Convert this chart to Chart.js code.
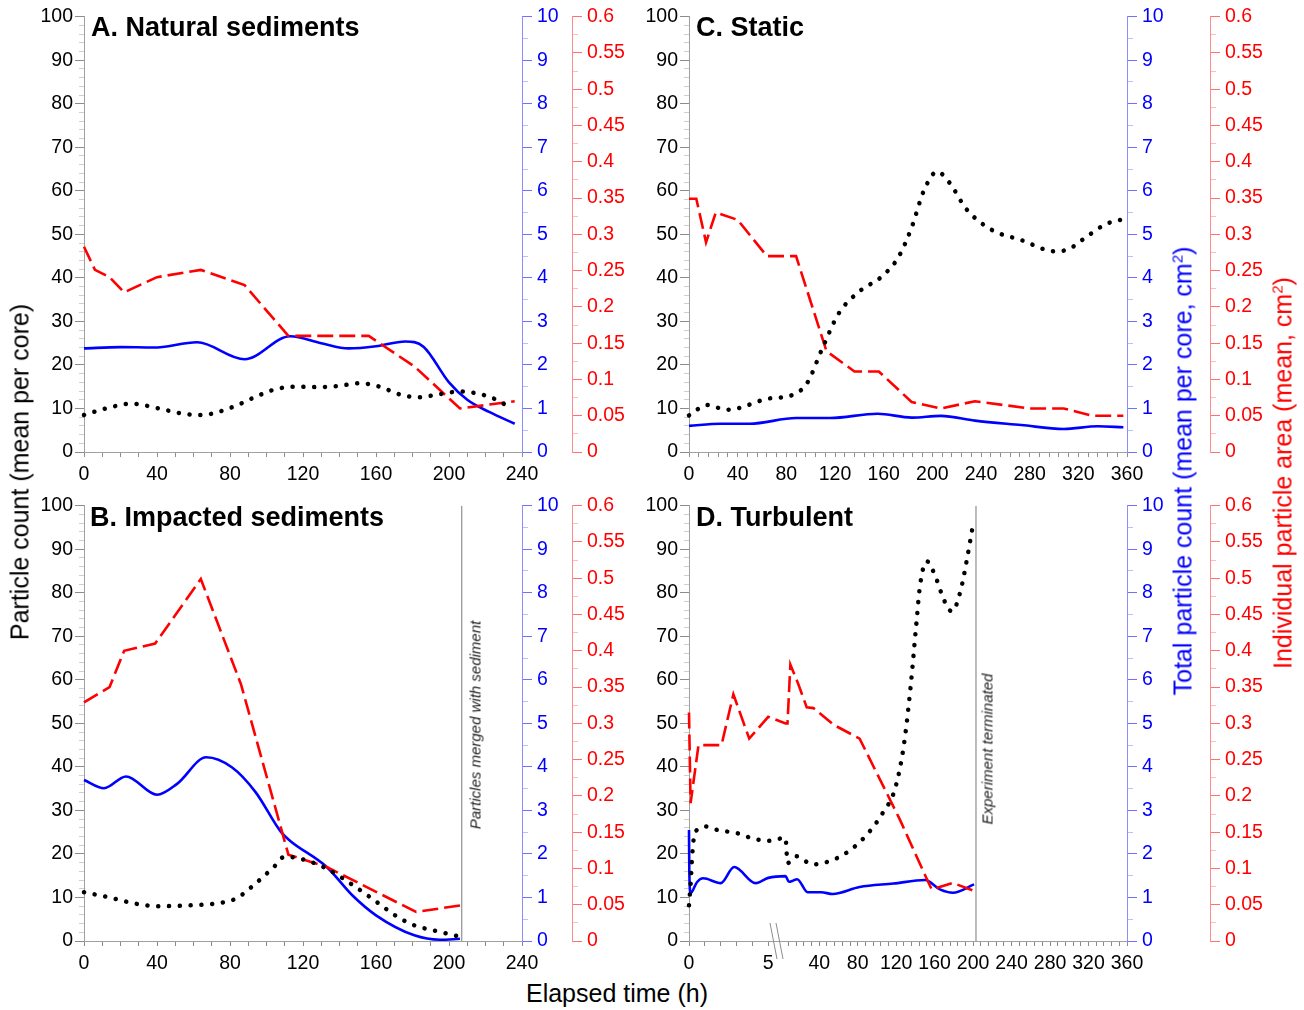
<!DOCTYPE html>
<html>
<head>
<meta charset="utf-8">
<script src="https://cdn.jsdelivr.net/npm/chart.js@4/dist/chart.umd.min.js"></script>
<style>
body { margin: 0; background: #fff; width: 1304px; height: 1010px; position: relative; overflow: hidden;
       font-family: "Liberation Sans", Arial, Helvetica, sans-serif; }
canvas { position: absolute; }
.t { position: absolute; white-space: nowrap; line-height: 1; }
.rot { transform: translate(-50%, -50%) rotate(-90deg); }
.ttl { font-weight: bold; font-size: 27px; color: #000; }
.ax { font-size: 25px; }
.note { font-size: 15px; font-style: italic; color: #222; }
sup { font-size: 0.6em; vertical-align: super; line-height: 0; }
</style>
</head>
<body>
<canvas id="cA" width="602" height="489" style="left:30px;top:0px"></canvas>
<canvas id="cB" width="602" height="489" style="left:30px;top:489px"></canvas>
<canvas id="cC" width="635" height="489" style="left:635px;top:0px"></canvas>
<canvas id="cD" width="635" height="489" style="left:635px;top:489px"></canvas>

<div class="t ttl" style="left:91px;top:14px">A. Natural sediments</div>
<div class="t ttl" style="left:90px;top:504px">B. Impacted sediments</div>
<div class="t ttl" style="left:696px;top:14px">C. Static</div>
<div class="t ttl" style="left:696px;top:504px">D. Turbulent</div>

<div class="t rot note" style="left:475px;top:725px">Particles merged with sediment</div>
<div class="t rot note" style="left:987px;top:749px">Experiment terminated</div>

<div class="t rot ax" style="left:20px;top:472px;color:#000">Particle count (mean per core)</div>
<div class="t rot ax" style="left:1183px;top:471px;color:#0000ff">Total particle count (mean per core, cm<sup>2</sup>)</div>
<div class="t rot ax" style="left:1283px;top:473px;color:#ff0000">Individual particle area (mean, cm<sup>2</sup>)</div>
<div class="t ax" style="left:617px;top:993px;transform:translate(-50%,-50%)">Elapsed time (h)</div>

<script>
// tick labels
const countTicks = [0, 10, 20, 30, 40, 50, 60, 70, 80, 90, 100];
const totalTicks = [0, 1, 2, 3, 4, 5, 6, 7, 8, 9, 10];
const areaTicks = [0, 0.05, 0.1, 0.15, 0.2, 0.25, 0.3, 0.35, 0.4, 0.45, 0.5, 0.55, 0.6];
const timeTicksShort = [0, 40, 80, 120, 160, 200, 240];
const timeTicksLong = [0, 40, 80, 120, 160, 200, 240, 280, 320, 360];
const turbEarlyTicks = [0, 5];

// A. Natural sediments
const natCountHours = [0, 12, 26, 41, 53, 64, 82, 92, 104, 115, 128, 140, 151, 162, 174, 184, 195, 206, 216, 226, 234];
const natCount = [8.5, 10, 11.1, 10, 8.9, 8.5, 10.4, 12.3, 14.3, 15, 14.9, 15.2, 15.8, 15, 13.1, 12.6, 13.3, 13.9, 13.4, 12, 10];
const natTotalHours = [0, 20, 38, 62, 88, 113, 130, 145, 160, 176, 186, 200, 210, 222, 236];
const natTotal = [2.38, 2.41, 2.4, 2.52, 2.13, 2.66, 2.5, 2.38, 2.43, 2.54, 2.42, 1.6, 1.2, 0.92, 0.65];
const natAreaHours = [0, 6, 14, 22, 40, 64, 88, 112, 156, 181, 206, 236];
const natArea = [0.283, 0.251, 0.241, 0.220, 0.241, 0.251, 0.230, 0.160, 0.160, 0.118, 0.060, 0.070];

// B. Impacted sediments
const impCountHours = [0, 13, 28, 41, 59, 72, 83, 94, 104, 110, 122, 133, 145, 158, 172, 181, 195, 205];
const impCount = [11.2, 10.1, 8.6, 8.0, 8.2, 8.6, 9.7, 13.2, 17, 19.4, 18.5, 16.6, 13.5, 9.7, 5.5, 3.6, 2.1, 1.1];
const impTotalHours = [0, 11, 23, 40, 51, 67, 81, 94, 108, 113, 133, 147, 160, 181, 195, 206];
const impTotal = [3.70, 3.51, 3.78, 3.36, 3.61, 4.22, 3.99, 3.42, 2.50, 2.30, 1.70, 1.05, 0.59, 0.13, 0.03, 0.05];
const impAreaHours = [0, 14, 22, 39, 64, 86, 112, 133, 182, 206];
const impArea = [0.329, 0.350, 0.400, 0.410, 0.499, 0.354, 0.119, 0.102, 0.040, 0.049];
const impMergedHour = 207;

// C. Static
const staCountHours = [0, 15, 31, 41, 64, 85, 97, 109, 123, 141, 158, 172, 183, 193, 204, 214, 228, 249, 273, 301, 312, 326, 343, 357];
const staCount = [8.4, 10.8, 9.7, 10.1, 12.2, 13.1, 15.8, 23.4, 31.8, 37.1, 40.2, 44.7, 51.6, 60, 64.4, 61.9, 55.8, 51, 48.7, 46.1, 46.6, 49.3, 52.4, 53.5];
const staTotalHours = [0, 26, 50, 88, 116, 155, 183, 207, 235, 273, 308, 336, 357];
const staTotal = [0.60, 0.65, 0.65, 0.78, 0.78, 0.88, 0.79, 0.83, 0.72, 0.62, 0.53, 0.59, 0.57];
const staAreaHours = [0, 6, 14, 22, 40, 64, 88, 113, 136, 156, 183, 207, 235, 280, 308, 331, 357];
const staArea = [0.349, 0.349, 0.289, 0.330, 0.320, 0.270, 0.270, 0.139, 0.111, 0.111, 0.069, 0.060, 0.070, 0.060, 0.060, 0.050, 0.050];

// D. Turbulent (first 5 h on a stretched scale, then a break)
const turbCountEarlyHours = [0, 0.1, 0.2, 0.32, 0.6, 1, 1.9, 3, 3.9, 5];
const turbCountEarly = [8.2, 13, 19.5, 24, 25.7, 26.3, 25.4, 24.8, 23.7, 23];
const turbCountLateHours = [5, 7, 16, 33, 55, 73, 91, 106, 119, 128, 135, 141, 145, 152, 161, 170, 178, 187, 194, 200];
const turbCountLate = [23.7, 17.9, 19.5, 17.6, 18.7, 21, 24.8, 29.4, 35.1, 45, 58.4, 72.9, 82, 87.2, 83.6, 78.2, 75.7, 80.5, 88.2, 95.8];
const turbTotalEarlyHours = [0, 0.02, 0.1, 0.5, 0.9, 2.0, 2.85, 4.2, 5];
const turbTotalEarly = [2.55, 1.6, 1.1, 1.35, 1.44, 1.33, 1.70, 1.33, 1.45];
const turbTotalLateHours = [5, 8.5, 12, 17, 28, 42, 54, 82, 117, 150, 166, 179, 201];
const turbTotalLate = [1.49, 1.36, 1.38, 1.42, 1.12, 1.12, 1.08, 1.24, 1.32, 1.40, 1.18, 1.11, 1.30];
const turbAreaEarlyHours = [0, 0.1, 0.6, 2.05, 2.8, 3.8, 5];
const turbAreaEarly = [0.315, 0.19, 0.27, 0.27, 0.34, 0.279, 0.309];
const turbAreaLateHours = [5, 7, 10, 18, 27, 34, 55, 82, 124, 152, 157, 179, 201];
const turbAreaLate = [0.300, 0.300, 0.381, 0.355, 0.322, 0.321, 0.298, 0.279, 0.167, 0.085, 0.071, 0.080, 0.069];
const turbEndHour = 203;

const FONT = '"Liberation Sans", Arial, Helvetica, sans-serif';
const TICK_SIZE = 19.5;
const EARLY_STRETCH = 16.48; // axis units per hour in the first 5 h
const LATE_OFFSET = 95.4;    // where hour 0 of the main time axis sits

function near(list, v) { return list.some(m => Math.abs(m - v) < 1e-7); }
function fmt(v) { return String(+v.toFixed(3)); }

function subdivide(majors, n) {
  const out = [];
  for (let i = 0; i < majors.length; i++) {
    out.push(majors[i]);
    if (i < majors.length - 1) {
      const step = (majors[i + 1] - majors[i]) / n;
      for (let k = 1; k < n; k++) out.push(majors[i] + k * step);
    }
  }
  return out;
}

function leftAxis() {
  const isMaj = c => c.tick && near(countTicks, c.tick.value);
  return {
    type: 'linear', position: 'left', min: 0, max: 100,
    afterBuildTicks: s => { s.ticks = subdivide(countTicks, 5).map(v => ({value: v})); },
    afterFit: s => { s.width = 54; },
    border: {color: '#a0a0a0', width: 1},
    grid: {
      drawOnChartArea: false, tickLength: 9, tickWidth: 1,
      tickColor: c => isMaj(c) ? '#8c8c8c' : '#cfcfcf',
      tickBorderDash: c => isMaj(c) ? [] : [5, 4],
      tickBorderDashOffset: c => isMaj(c) ? 0 : 5
    },
    ticks: {autoSkip: false, padding: 2, color: '#000', font: {size: TICK_SIZE, family: FONT},
      callback: v => near(countTicks, v) ? fmt(v) : ''}
  };
}

function rightAxis(majors, max, weight, width, label, line, major, minor) {
  const isMaj = c => c.tick && near(majors, c.tick.value);
  return {
    type: 'linear', position: 'right', min: 0, max: max, weight: weight,
    afterBuildTicks: s => { s.ticks = subdivide(majors, 2).map(v => ({value: v})); },
    afterFit: s => { s.width = width; },
    border: {color: line, width: 1},
    grid: {
      drawOnChartArea: false, tickLength: 10, tickWidth: 1,
      tickColor: c => isMaj(c) ? major : minor,
      tickBorderDash: c => isMaj(c) ? [] : [5, 20]
    },
    ticks: {autoSkip: false, padding: 5, color: label, font: {size: TICK_SIZE, family: FONT},
      callback: v => near(majors, v) ? fmt(v) : ''}
  };
}

function timeAxis(max, tickVals, labelFor) {
  return {
    type: 'linear', position: 'bottom', min: 0, max: max,
    afterBuildTicks: s => { s.ticks = tickVals.map(v => ({value: v})); },
    afterFit: s => { s.height = 37; },
    border: {color: '#a0a0a0', width: 1},
    grid: {drawOnChartArea: false, tickLength: 5, tickWidth: 1, tickColor: '#8c8c8c'},
    ticks: {autoSkip: false, maxRotation: 0, padding: 6, color: '#000', font: {size: TICK_SIZE, family: FONT},
      callback: v => labelFor(v)}
  };
}

function pts(xs, ys) { return xs.map((x, i) => ({x: x, y: ys[i]})); }

function countLine(data) {
  return {data: data, yAxisID: 'y', borderColor: '#000', borderWidth: 4.5, borderDash: [0.1, 10.7],
    borderCapStyle: 'round', cubicInterpolationMode: 'monotone', pointRadius: 0, clip: 5};
}
function totalLine(data) {
  return {data: data, yAxisID: 'yTotal', borderColor: '#0000ff', borderWidth: 2.6,
    cubicInterpolationMode: 'monotone', pointRadius: 0, clip: 5};
}
function areaLine(data) {
  return {data: data, yAxisID: 'yArea', borderColor: '#ff0000', borderWidth: 2.6, borderDash: [16, 6],
    tension: 0, pointRadius: 0, clip: 5};
}
function markerLine(x) {
  return {data: [{x: x, y: 0}, {x: x, y: 100}], yAxisID: 'y', borderColor: '#7a7a7a', borderWidth: 1, pointRadius: 0};
}

function makePanel(id, xScale, datasets, blueWidth, extraPlugins) {
  return new Chart(document.getElementById(id), {
    type: 'line',
    data: {datasets: datasets},
    options: {
      responsive: false, animation: false, devicePixelRatio: 1,
      layout: {padding: {top: 15, left: 0, right: 0, bottom: 0}},
      plugins: {legend: {display: false}, tooltip: {enabled: false}},
      scales: {
        x: xScale,
        y: leftAxis(),
        yTotal: rightAxis(totalTicks, 10, 0, blueWidth, '#0000ff', '#8c8cff', '#7070ff', '#bdbdff'),
        yArea: rightAxis(areaTicks, 0.6, 1, 60, '#ff0000', '#ff8c8c', '#ff7070', '#ffbdbd')
      }
    },
    plugins: extraPlugins || []
  });
}

const labelEvery = majors => v => near(majors, v) ? fmt(v) : '';

// A
makePanel('cA', timeAxis(240, subdivide(timeTicksShort, 4), labelEvery(timeTicksShort)), [
  countLine(pts(natCountHours, natCount)),
  areaLine(pts(natAreaHours, natArea)),
  totalLine(pts(natTotalHours, natTotal))
], 50);

// B
makePanel('cB', timeAxis(240, subdivide(timeTicksShort, 4), labelEvery(timeTicksShort)), [
  countLine(pts(impCountHours, impCount)),
  areaLine(pts(impAreaHours, impArea)),
  totalLine(pts(impTotalHours, impTotal)),
  markerLine(impMergedHour)
], 50);

// C
makePanel('cC', timeAxis(360, subdivide(timeTicksLong, 5), labelEvery(timeTicksLong)), [
  countLine(pts(staCountHours, staCount)),
  areaLine(pts(staAreaHours, staArea)),
  totalLine(pts(staTotalHours, staTotal))
], 83);

// D: broken time axis
const earlyX = h => h * EARLY_STRETCH;
const lateX = h => h + LATE_OFFSET;
function turbPts(eh, ev, lh, lv) {
  return pts(eh.map(earlyX), ev).concat(pts(lh.map(lateX), lv));
}
const turbTickVals = subdivide(turbEarlyTicks, 5).map(earlyX)
  .concat(subdivide(timeTicksLong, 5).slice(1).map(lateX));
const turbTickLabel = v => {
  for (const h of turbEarlyTicks) if (Math.abs(earlyX(h) - v) < 1e-6) return String(h);
  for (const h of timeTicksLong.slice(1)) if (Math.abs(lateX(h) - v) < 1e-6) return String(h);
  return '';
};
const breakMark = {
  id: 'breakMark',
  afterDraw(chart) {
    const sx = chart.scales.x;
    const xm = (sx.getPixelForValue(earlyX(5)) + sx.getPixelForValue(lateX(0))) / 2 + 2;
    const y = chart.chartArea.bottom;
    const ctx = chart.ctx;
    ctx.save();
    ctx.strokeStyle = '#8c8c8c';
    ctx.lineWidth = 1;
    [-3, 3].forEach(d => {
      ctx.beginPath();
      ctx.moveTo(xm + d - 3.5, y - 18);
      ctx.lineTo(xm + d + 3.5, y + 18);
      ctx.stroke();
    });
    ctx.restore();
  }
};
makePanel('cD', timeAxis(lateX(360), turbTickVals, turbTickLabel), [
  countLine(turbPts(turbCountEarlyHours, turbCountEarly, turbCountLateHours, turbCountLate)),
  areaLine(turbPts(turbAreaEarlyHours, turbAreaEarly, turbAreaLateHours, turbAreaLate)),
  totalLine(turbPts(turbTotalEarlyHours, turbTotalEarly, turbTotalLateHours, turbTotalLate)),
  markerLine(lateX(turbEndHour))
], 83, [breakMark]);
</script>
</body>
</html>
